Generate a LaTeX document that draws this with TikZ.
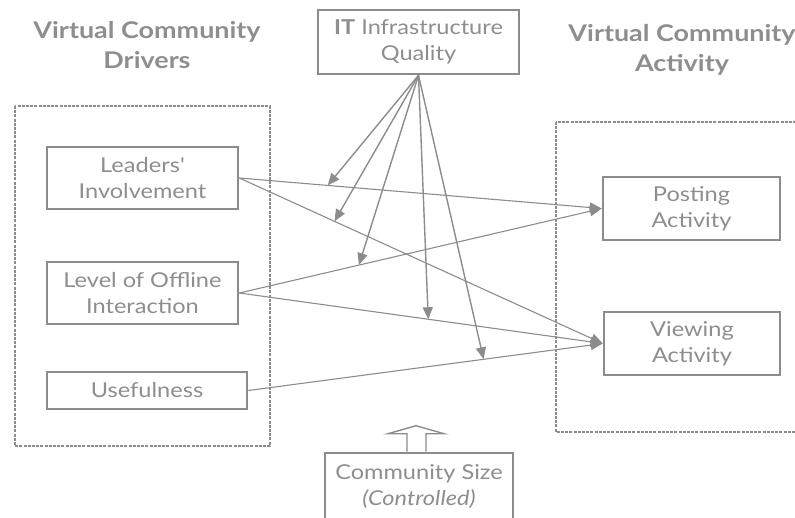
\documentclass[tikz,border=0pt]{standalone}
\usepackage{fontspec}
\setmainfont[FakeStretch=1.15]{Lato}
\newfontfamily\headfont[FakeStretch=1.17]{Lato}
\newfontfamily\straightquote[FakeStretch=1.15,Ligatures=TeXOff]{Lato}
\usetikzlibrary{arrows.meta,calc}
\definecolor{inkgray}{HTML}{8C8C8C}
\definecolor{txtgray}{HTML}{8E8E8E}
\tikzset{
  box/.style={draw=inkgray, line width=2.6pt, fill=white, align=center,
    text=txtgray, inner sep=2pt, font=\fontsize{20.5}{26}\selectfont},
  heading/.style={align=center, text=txtgray,
    font=\headfont\bfseries\fontsize{23}{30}\selectfont},
  frame/.style={draw=inkgray, line width=2pt, dash pattern=on 3pt off 1.2pt},
  link/.style={draw=inkgray, line width=1.1pt, -{Triangle[length=12pt,width=10pt]}},
  modlink/.style={draw=inkgray, line width=1.4pt, -{Triangle[length=12pt,width=10pt]}},
  hollow/.style={draw=inkgray, line width=1.4pt, fill=white, line join=miter}
}
\begin{document}
\begin{tikzpicture}[x=1pt,y=-1pt]
\useasboundingbox (0,0) rectangle (795,518);

% group frames
\draw[frame] (15,106) rectangle (270,446);
\draw[frame] (556,122) rectangle (805,432);

% headings
\node[heading] (hdrive) at (147,45) {Virtual Community\\Drivers};
\node[heading] (hact) at (682,50) {Virtual Community\\Activity};

% boxes
\node[box, minimum width=201pt, minimum height=64pt] (it) at (418.5,42)
  {\textbf{IT} Infrastructure\\Quality};
\node[box, minimum width=191pt, minimum height=62pt] (lead) at (142.5,178)
  {Leaders{\straightquote '}\\Involvement};
\node[box, minimum width=191pt, minimum height=62pt] (level) at (142.5,293)
  {Level of Offline\\Interaction};
\node[box, minimum width=200pt, minimum height=37pt] (use) at (147,390.5)
  {Usefulness};
\node[box, minimum width=177pt, minimum height=63pt] (post) at (691.5,208.5)
  {Posting\\Activity};
\node[box, minimum width=176pt, minimum height=63pt] (view) at (692,343.5)
  {Viewing\\Activity};
\node[box, minimum width=188pt, minimum height=68pt] (size) at (419,487)
  {Community Size\\\textit{(Controlled)}};

% driver -> activity paths
\draw[link] (lead.east) -- coordinate[pos=0.244] (m1) (post.west);
\draw[link] (lead.east) -- coordinate[pos=0.262] (m2) (view.west);
\draw[link] (level.east) -- coordinate[pos=0.33] (m3) (post.west);
\draw[link] (level.east) -- coordinate[pos=0.52] (m4) (view.west);
\draw[link] (use.east) -- coordinate[pos=0.664] (m5) (view.west);

% moderating effects of IT quality
\foreach \m in {m1,m2,m3,m4,m5}
  \draw[modlink] (it.south) -- (\m);

% control arrow
\draw[hollow] ($(size.north)+(-12,0)$) -- ++(0,-18) -- ++(-19,0)
  -- ++(28,-8) -- ++(28,8) -- ++(-18,0) -- ++(0,18);
\end{tikzpicture}
\end{document}
